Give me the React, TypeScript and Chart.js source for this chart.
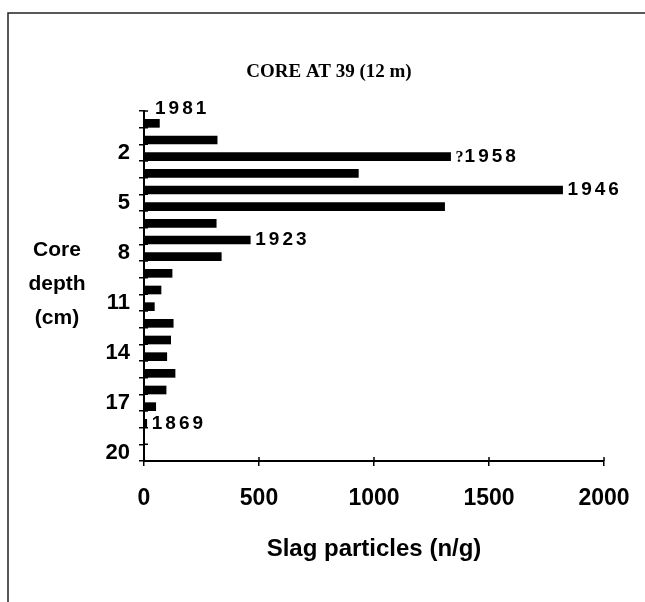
import React, { useEffect, useRef } from 'react';
import { Chart, registerables } from 'chart.js';

Chart.register(...registerables);

// ---- data ----
const depthLabels = ['0', '1', '2', '3', '4', '5', '6', '7', '8', '9', '10', '11', '12', '13', '14', '15', '16', '17', '18', '19', '20'];
const shownDepthLabels = ['2', '5', '8', '11', '14', '17', '20'];
const slagValues = [67, 318, 1333, 932, 1820, 1307, 314, 462, 336, 122, 74, 45, 127, 116, 99, 135, 96, 51, 12, null, null];
const yearIndex = [0, 2, 4, 7, 18];
const yearText = ['1981', '?1958', '1946', '1923', '1869'];
const xTickValues = [0, 500, 1000, 1500, 2000];
const chartTitle = 'CORE AT 39 (12 m)';
const xTitle = 'Slag particles (n/g)';
const yTitleLines = ['Core', 'depth', '(cm)'];

const SANS = '"Liberation Sans", Arial, sans-serif';
const SERIF = '"Liberation Serif", "Times New Roman", serif';
const BAR_SHIFT = 4;

const overlayPlugin = {
  id: 'overlay',
  beforeDraw(chart: any) {
    const { ctx } = chart;
    ctx.save();
    ctx.strokeStyle = '#222';
    ctx.lineWidth = 1.5;
    ctx.beginPath();
    ctx.moveTo(645, 13);
    ctx.lineTo(8, 13);
    ctx.lineTo(8, 602);
    ctx.stroke();
    ctx.restore();
  },
  beforeDatasetsDraw(chart: any) {
    chart.ctx.save();
    chart.ctx.translate(0, BAR_SHIFT);
  },
  afterDatasetsDraw(chart: any) {
    chart.ctx.restore();
  },
  afterDraw(chart: any) {
    const { ctx, chartArea, scales } = chart;
    ctx.save();
    // inner halves of the crossing tick marks
    ctx.strokeStyle = '#000';
    ctx.lineWidth = 1.5;
    ctx.beginPath();
    xTickValues.forEach((v) => {
      const px = scales.x.getPixelForValue(v);
      ctx.moveTo(px, chartArea.bottom);
      ctx.lineTo(px, chartArea.bottom - 4);
    });
    const ys = scales.y;
    const half = (ys.getPixelForTick(1) - ys.getPixelForTick(0)) / 2;
    for (let i = 0; i <= depthLabels.length; i++) {
      const py = ys.getPixelForTick(0) - half + i * half * 2;
      ctx.moveTo(chartArea.left, py);
      ctx.lineTo(chartArea.left + 4, py);
    }
    ctx.stroke();

    ctx.fillStyle = '#000';
    ctx.textBaseline = 'middle';
    // chart title
    ctx.textAlign = 'center';
    ctx.font = `bold 19px ${SERIF}`;
    ctx.fillText(chartTitle, 329, 72);
    // y axis title (horizontal, three lines)
    ctx.font = `bold 21px ${SANS}`;
    yTitleLines.forEach((t, i) => ctx.fillText(t, 57, 250 + i * 34));
    // year annotations
    const meta = chart.getDatasetMeta(0);
    ctx.textAlign = 'left';
    yearIndex.forEach((idx, k) => {
      const el: any = meta.data[idx];
      let text = yearText[k];
      let x = el.x + 5;
      let y = el.y + BAR_SHIFT;
      if (idx === 0) {
        x = chartArea.left + 11;
        y = chartArea.top - 2;
      }
      if (text.startsWith('?')) {
        ctx.font = `bold 16px ${SERIF}`;
        (ctx as any).letterSpacing = '0px';
        ctx.fillText('?', x, y + 1);
        x += ctx.measureText('?').width + 1;
        text = text.slice(1);
      }
      ctx.font = `bold 19px ${SANS}`;
      (ctx as any).letterSpacing = '3px';
      ctx.fillText(text, x, y);
      (ctx as any).letterSpacing = '0px';
    });
    ctx.restore();
  },
};

export default function App() {
  const ref = useRef<HTMLCanvasElement | null>(null);

  useEffect(() => {
    if (!ref.current) return;
    const chart = new Chart(ref.current, {
      type: 'bar',
      data: {
        labels: depthLabels,
        datasets: [
          {
            data: slagValues as any,
            backgroundColor: '#000',
            borderWidth: 0,
            barThickness: 8,
          },
        ],
      },
      options: {
        indexAxis: 'y',
        animation: false,
        responsive: false,
        devicePixelRatio: 1,
        layout: { padding: { top: 111, right: 41, left: 0, bottom: 0 } },
        plugins: {
          legend: { display: false },
          tooltip: { enabled: false },
          title: { display: false },
        },
        scales: {
          x: {
            type: 'linear',
            min: 0,
            max: 2000,
            afterFit: (s: any) => {
              s.height = 141;
              s.paddingLeft = 0;
              s.paddingRight = 0;
            },
            afterBuildTicks: (s: any) => {
              s.ticks = xTickValues.map((v) => ({ value: v }));
            },
            border: { display: true, color: '#000', width: 2 },
            grid: { drawOnChartArea: false, drawTicks: true, tickLength: 5, color: '#000', lineWidth: 1.5 },
            ticks: {
              color: '#000',
              padding: 19,
              font: { family: SANS, size: 23, weight: 'bold' },
              callback: (v: any) => String(v),
            },
            title: {
              display: true,
              text: xTitle,
              color: '#000',
              font: { family: SANS, size: 24, weight: 'bold' },
              padding: { top: 0, bottom: 38 },
            },
          },
          y: {
            type: 'category',
            afterFit: (s: any) => {
              s.width = 144;
              s.paddingTop = 0;
              s.paddingBottom = 0;
            },
            border: { display: true, color: '#000', width: 2 },
            grid: { drawOnChartArea: false, drawTicks: true, tickLength: 5, color: '#000', lineWidth: 1.5, offset: true },
            ticks: {
              color: '#000',
              padding: 9,
              autoSkip: false,
              font: { family: SANS, size: 22, weight: 'bold' },
              callback: (_v: any, i: number) => (shownDepthLabels.includes(depthLabels[i]) ? depthLabels[i] : ''),
            },
          },
        },
      },
      plugins: [overlayPlugin],
    } as any);
    return () => chart.destroy();
  }, []);

  return (
    <div style={{ position: 'absolute', left: 0, top: 0, width: 645, height: 602, background: '#fff' }}>
      <canvas ref={ref} width={645} height={602} style={{ display: 'block', width: 645, height: 602 }} />
    </div>
  );
}
